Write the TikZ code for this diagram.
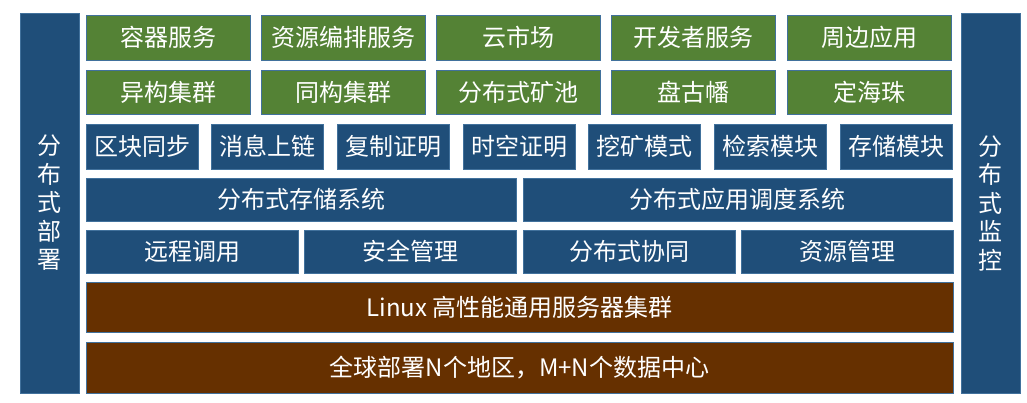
\documentclass[tikz,border=0pt]{standalone}
\usepackage{fontspec}
\setmainfont{Noto Sans CJK SC}
\definecolor{bluebox}{HTML}{1F4E79}
\definecolor{greenbox}{HTML}{548235}
\definecolor{brownbox}{HTML}{663000}
\definecolor{edgeline}{HTML}{41719C}
\begin{document}
\begin{tikzpicture}[x=1pt,y=-1pt,
  box/.style={draw=edgeline,line width=0.9pt,text=white,inner sep=0pt,
    font=\fontsize{24}{26}\selectfont},
  gbox/.style={box,fill=greenbox},
  bbox/.style={box,fill=bluebox},
  rbox/.style={box,fill=brownbox},
  side/.style={box,fill=bluebox,align=center,font=\fontsize{24}{28.5}\selectfont}]
\useasboundingbox (0,0) rectangle (1027,402);
% side columns
\draw[side] (20,13) rectangle (79,393) node[midway] (sl) {分\\布\\式\\部\\署};
\draw[side] (961,13) rectangle (1020,393) node[midway] (sr) {分\\布\\式\\监\\控};
% row 1
\foreach \t [count=\i from 0] in {容器服务,资源编排服务,云市场,开发者服务,周边应用}{
  \draw[gbox] ({86+175.3*\i},15) rectangle ({250+175.3*\i},60) node[midway] (r1\i) {\t};
}
% row 2
\foreach \t [count=\i from 0] in {异构集群,同构集群,分布式矿池,盘古幡,定海珠}{
  \draw[gbox] ({86+175.3*\i},70) rectangle ({250+175.3*\i},114) node[midway] (r2\i) {\t};
}
% row 3
\foreach \t [count=\i from 0] in {区块同步,消息上链,复制证明,时空证明,挖矿模式,检索模块,存储模块}{
  \draw[bbox] ({86+125.7*\i},124) rectangle ({198+125.7*\i},169) node[midway] (r3\i) {\t};
}
% row 4
\draw[bbox] (86,178) rectangle (516,221) node[midway] (r40) {分布式存储系统};
\draw[bbox] (523,178) rectangle (952,221) node[midway] (r41) {分布式应用调度系统};
% row 5
\foreach \t [count=\i from 0] in {远程调用,安全管理,分布式协同,资源管理}{
  \draw[bbox] ({86+218.6*\i},230) rectangle ({298+218.6*\i},273) node[midway] (r5\i) {\t};
}
% row 6, 7
\draw[rbox] (86,282) rectangle (953,332) node[midway] (r6) {Linux 高性能通用服务器集群};
\draw[rbox] (86,342) rectangle (953,393) node[midway] (r7) {全球部署N个地区，M+N个数据中心};
\end{tikzpicture}
\end{document}
